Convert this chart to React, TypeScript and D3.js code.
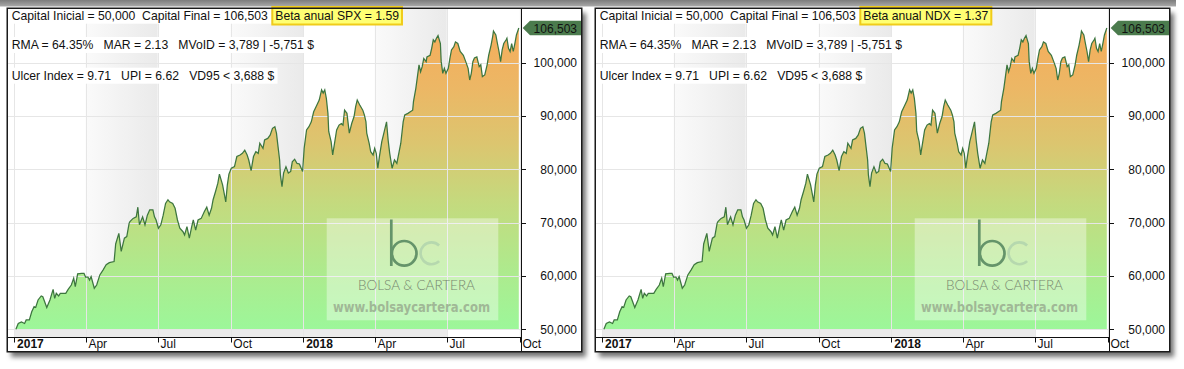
import React, { useEffect, useRef } from "react";
import * as d3 from "d3";

// equity curve (same curve in both panels)
const dates = [
  "2017-01-03","2017-01-06","2017-01-10","2017-01-14","2017-01-16","2017-01-20","2017-01-23","2017-01-26","2017-01-28","2017-01-31",
  "2017-02-04","2017-02-06","2017-02-11","2017-02-15","2017-02-19","2017-02-21","2017-02-23","2017-02-26","2017-02-28","2017-03-07",
  "2017-03-10","2017-03-14","2017-03-17","2017-03-19","2017-03-22","2017-03-27","2017-03-30","2017-04-01","2017-04-04","2017-04-06",
  "2017-04-08","2017-04-12","2017-04-15","2017-04-19","2017-04-23","2017-04-27","2017-05-01","2017-05-07","2017-05-09","2017-05-13",
  "2017-05-16","2017-05-20","2017-05-23","2017-05-26","2017-05-27","2017-05-31","2017-06-04","2017-06-06","2017-06-08","2017-06-12",
  "2017-06-15","2017-06-18","2017-06-21","2017-06-25","2017-06-27","2017-06-29","2017-07-02","2017-07-05","2017-07-08","2017-07-11",
  "2017-07-14","2017-07-16","2017-07-20","2017-07-23","2017-07-26","2017-07-29","2017-08-02","2017-08-04","2017-08-07","2017-08-10",
  "2017-08-13","2017-08-15","2017-08-18","2017-08-21","2017-08-25","2017-08-29","2017-09-01","2017-09-04","2017-09-07","2017-09-09",
  "2017-09-12","2017-09-15","2017-09-17","2017-09-21","2017-09-23","2017-09-25","2017-09-27","2017-09-29","2017-10-02","2017-10-06",
  "2017-10-09","2017-10-13","2017-10-16","2017-10-19","2017-10-22","2017-10-24","2017-10-27","2017-10-30","2017-11-02","2017-11-05",
  "2017-11-07","2017-11-11","2017-11-13","2017-11-17","2017-11-20","2017-11-23","2017-11-26","2017-11-28","2017-11-30","2017-12-02",
  "2017-12-03","2017-12-05","2017-12-07","2017-12-10","2017-12-13","2017-12-16","2017-12-18","2017-12-21","2017-12-24","2017-12-27",
  "2017-12-31","2018-01-02","2018-01-05","2018-01-08","2018-01-11","2018-01-14","2018-01-17","2018-01-21","2018-01-24","2018-01-26",
  "2018-01-28","2018-01-30","2018-02-01","2018-02-02","2018-02-05","2018-02-07","2018-02-09","2018-02-12","2018-02-15","2018-02-18",
  "2018-02-20","2018-02-22","2018-02-25","2018-02-28","2018-03-03","2018-03-06","2018-03-08","2018-03-10","2018-03-13","2018-03-17",
  "2018-03-19","2018-03-21","2018-03-22","2018-03-25","2018-03-27","2018-03-30","2018-04-01","2018-04-03","2018-04-05","2018-04-07",
  "2018-04-10","2018-04-12","2018-04-16","2018-04-18","2018-04-20","2018-04-23","2018-04-26","2018-04-29","2018-05-04","2018-05-07",
  "2018-05-09","2018-05-13","2018-05-16","2018-05-19","2018-05-20","2018-05-23","2018-05-25","2018-05-27","2018-05-29","2018-05-31",
  "2018-06-02","2018-06-05","2018-06-06","2018-06-10","2018-06-12","2018-06-14","2018-06-16","2018-06-18","2018-06-20","2018-06-23",
  "2018-06-24","2018-06-26","2018-06-28","2018-06-30","2018-07-03","2018-07-05","2018-07-07","2018-07-10","2018-07-12","2018-07-15",
  "2018-07-18","2018-07-22","2018-07-25","2018-07-28","2018-07-30","2018-08-01","2018-08-03","2018-08-05","2018-08-08","2018-08-11",
  "2018-08-13","2018-08-15","2018-08-18","2018-08-21","2018-08-23","2018-08-26","2018-08-28","2018-08-29","2018-09-01","2018-09-03",
  "2018-09-05","2018-09-07","2018-09-09","2018-09-11","2018-09-14","2018-09-15","2018-09-17","2018-09-19","2018-09-21","2018-09-23",
  "2018-09-25","2018-09-27","2018-09-30",
];
const equity = [
  50000,51100,51400,51100,51750,51750,53300,54250,54100,55500,
  56250,56100,54100,55500,57500,55800,56750,56250,56750,56750,
  57500,58300,59600,58000,60400,60500,60500,59800,59800,59250,
  59900,57700,58300,60200,61100,62100,62500,62700,66000,68000,
  64600,67100,67400,69900,70200,70800,71100,72900,69600,71100,
  69600,71400,72400,72400,71100,70500,68950,69600,71400,73600,
  74300,73900,73600,72700,70500,68950,68300,67700,69250,67100,
  69250,70500,68600,70500,70800,72100,72900,71400,72700,74300,
  75800,77400,79100,77100,75500,73900,77100,79100,80200,80500,
  82400,82700,83000,83600,82700,81750,79750,82400,83300,83000,
  84900,83950,85500,85800,86400,87700,88000,86800,84250,81750,
  78900,76750,79300,80500,79300,79600,81400,81900,81100,81000,
  79600,83950,87400,88000,88900,90800,91750,93000,94900,94300,
  94900,93300,90500,87100,85200,82700,84600,87400,88300,88600,
  88300,91100,90500,86800,88600,89900,91750,93000,92100,91100,
  90200,88900,86800,84900,83300,82700,83950,83000,80200,82400,
  85200,86400,88900,85500,83000,80200,81750,81100,84900,88900,
  90200,90500,90800,91100,92700,95200,97400,99600,98300,99250,
  100800,100200,101100,101400,102700,104300,103900,104600,105100,103600,
  100200,98000,98950,98000,98950,100800,102400,103000,103900,103600,
  102100,101400,100200,98950,96750,98000,100200,100900,101100,99250,
  99600,97400,97700,99600,101400,103300,104900,105950,105200,103600,
  102100,100200,102400,103600,104300,104600,102700,102100,103600,102100,
  103600,105200,106503,
];

const yTicks = [50000, 60000, 70000, 80000, 90000, 100000];
const statLines = [
  "Capital Inicial = 50,000  Capital Final = 106,503",
  "RMA = 64.35%   MAR = 2.13   MVoID = 3,789 | -5,751 $",
  "Ulcer Index = 9.71   UPI = 6.62   VD95 < 3,688 $",
];
const betaLabels = ["Beta anual SPX = 1.59", "Beta anual NDX = 1.37"];

const FONT = "'Liberation Sans', Arial, sans-serif";

const App = () => {
  const svgRef = useRef<SVGSVGElement>(null);

  useEffect(() => {
    document.body.style.margin = "0";
    const svg = d3.select(svgRef.current);
    svg.selectAll("*").remove();

    const parse = d3.utcParse("%Y-%m-%d");
    const data = dates.map((d, i) => ({ date: parse(d) as Date, value: equity[i] }));
    const last = data[data.length - 1];

    const x = d3
      .scaleUtc()
      .domain([parse("2017-01-01") as Date, parse("2018-10-01") as Date])
      .range([14.3, 519.6]);
    const y = d3.scaleLinear().domain([50000, 100000]).range([329.3, 62.7]);
    const xTicks = x.ticks(d3.utcMonth.every(3) as any);

    const plot = { left: 8, right: 521.7, top: 8, bottom: 337.3 };

    const defs = svg.append("defs");
    const fillGrad = defs
      .append("linearGradient")
      .attr("id", "eqFill")
      .attr("gradientUnits", "userSpaceOnUse")
      .attr("x1", 0).attr("x2", 0)
      .attr("y1", 28).attr("y2", 330);
    [
      [0, "#f5ad5b"],
      [0.2, "#ecb765"],
      [0.38, "#dcc56f"],
      [0.58, "#c4da7e"],
      [0.8, "#aeea8d"],
      [1, "#9cf79a"],
    ].forEach(([o, c]) => fillGrad.append("stop").attr("offset", o as number).attr("stop-color", c as string));

    const bandGrad = defs.append("linearGradient").attr("id", "band").attr("x1", 0).attr("x2", 1).attr("y1", 0).attr("y2", 0);
    bandGrad.append("stop").attr("offset", 0).attr("stop-color", "#fafafa");
    bandGrad.append("stop").attr("offset", 1).attr("stop-color", "#eaeaea");

    const topGrad = defs.append("linearGradient").attr("id", "topBand").attr("x1", 0).attr("x2", 0).attr("y1", 0).attr("y2", 1);
    topGrad.append("stop").attr("offset", 0).attr("stop-color", "#7c7c7c");
    topGrad.append("stop").attr("offset", 1).attr("stop-color", "#a9a9a9");

    const shadow = defs.append("filter").attr("id", "shadow")
      .attr("x", "-5%").attr("y", "-5%").attr("width", "115%").attr("height", "120%");
    shadow.append("feDropShadow")
      .attr("dx", 4).attr("dy", 5).attr("stdDeviation", 2.5)
      .attr("flood-color", "#000").attr("flood-opacity", 0.55);

    defs.append("clipPath").attr("id", "plotClip")
      .append("rect")
      .attr("x", plot.left).attr("y", plot.top)
      .attr("width", plot.right - plot.left).attr("height", plot.bottom - plot.top);

    svg.append("rect").attr("x", 0).attr("y", 0).attr("width", 1176).attr("height", 6.5).attr("fill", "url(#topBand)");

    const area = d3.area<{ date: Date; value: number }>()
      .x((d) => x(d.date))
      .y0(y(50000))
      .y1((d) => y(d.value));
    const line = d3.line<{ date: Date; value: number }>()
      .x((d) => x(d.date))
      .y((d) => y(d.value));

    betaLabels.forEach((beta, pi) => {
      const g = svg.append("g").attr("transform", `translate(${pi * 588},0)`);

      // frame
      g.append("rect")
        .attr("x", 7).attr("y", 8).attr("width", 575).attr("height", 344)
        .attr("fill", "#fff").attr("filter", "url(#shadow)");

      const inner = g.append("g").attr("clip-path", "url(#plotClip)");

      // alternate quarter shading
      xTicks.forEach((t) => {
        if (t.getUTCMonth() === 3 || t.getUTCMonth() === 9) {
          const t2 = d3.utcMonth.offset(t, 3);
          inner.append("rect")
            .attr("x", x(t)).attr("y", plot.top)
            .attr("width", x(t2) - x(t)).attr("height", plot.bottom - plot.top)
            .attr("fill", "url(#band)");
        }
      });

      inner.append("rect")
        .attr("x", x(xTicks[0])).attr("y", y(50000) + 0.5)
        .attr("width", x(parse("2018-07-01") as Date) - x(xTicks[0]))
        .attr("height", plot.bottom - y(50000) - 0.5)
        .attr("fill", "#ebebeb");

      inner.append("path").datum(data).attr("d", area).attr("fill", "url(#eqFill)");

      // grid
      inner.selectAll(".hg").data(yTicks).enter().append("line")
        .attr("x1", plot.left).attr("x2", plot.right)
        .attr("y1", (d) => Math.round(y(d)) + 0.5).attr("y2", (d) => Math.round(y(d)) + 0.5)
        .attr("stroke", "#e6e6e6").attr("stroke-width", 1);
      inner.selectAll(".vg").data(xTicks).enter().append("line")
        .attr("x1", (d) => Math.round(x(d)) + 0.5).attr("x2", (d) => Math.round(x(d)) + 0.5)
        .attr("y1", plot.top).attr("y2", plot.bottom)
        .attr("stroke", "#e6e6e6").attr("stroke-width", 1);

      // watermark
      const wm = inner.append("g");
      wm.append("rect").attr("x", 326.7).attr("y", 218.3).attr("width", 171.6).attr("height", 102)
        .attr("fill", "#fff").attr("fill-opacity", 0.38);
      wm.append("line").attr("x1", 391.3).attr("x2", 391.3).attr("y1", 219.5).attr("y2", 266)
        .attr("stroke", "#65946a").attr("stroke-width", 2.7);
      wm.append("circle").attr("cx", 404.2).attr("cy", 253.3).attr("r", 12.3)
        .attr("fill", "none").attr("stroke", "#65946a").attr("stroke-width", 2.7);
      wm.append("path")
        .attr("transform", "translate(431.5,253.3)")
        .attr("d", d3.arc()({ innerRadius: 9.6, outerRadius: 12.3, startAngle: Math.PI / 2 + 0.8, endAngle: Math.PI * 2.5 - 0.8 } as any) as string)
        .attr("fill", "#b6d8ae");
      wm.append("text").attr("x", 358).attr("y", 290)
        .attr("textLength", 117).attr("lengthAdjust", "spacingAndGlyphs")
        .style("font", `300 13.5px Lato, 'DejaVu Sans', sans-serif`)
        .attr("fill", "#76866e").text("BOLSA & CARTERA");
      wm.append("text").attr("x", 333).attr("y", 311.5)
        .attr("textLength", 157).attr("lengthAdjust", "spacingAndGlyphs")
        .style("font", `bold 13.5px Verdana, 'DejaVu Sans', sans-serif`)
        .attr("fill", "#a0b896").text("www.bolsaycartera.com");

      inner.append("path").datum(data).attr("d", line)
        .attr("fill", "none").attr("stroke", "#3d763f").attr("stroke-width", 1.25);

      // stats text with white backing
      const baselines = [20, 49.3, 80];
      let firstEnd = 0;
      statLines.forEach((s, i) => {
        const bg = g.append("rect").attr("fill", "#fff");
        const t = g.append("text")
          .attr("x", 11.7).attr("y", baselines[i])
          .style("font", `12.2px ${FONT}`).style("white-space", "pre")
          .attr("fill", "#111").text(s);
        const len = (t.node() as SVGTextElement).getComputedTextLength();
        if (i === 0) firstEnd = 11.7 + len;
        bg.attr("x", 8).attr("y", baselines[i] - 12.3).attr("width", len + 7).attr("height", 16);
      });

      // beta box
      const bx = firstEnd + 4.5;
      const bBox = g.append("rect").attr("x", bx).attr("y", 7).attr("height", 17.5)
        .attr("fill", "#ffff73").attr("stroke", "#f0cc1a").attr("stroke-width", 2);
      const bt = g.append("text").attr("x", bx + 3).attr("y", 20)
        .style("font", `12.2px ${FONT}`).attr("fill", "#111").text(beta);
      bBox.attr("width", (bt.node() as SVGTextElement).getComputedTextLength() + 6);

      // axes
      g.append("line").attr("x1", plot.left).attr("x2", plot.right)
        .attr("y1", 337.5).attr("y2", 337.5).attr("stroke", "#111").attr("stroke-width", 1);
      g.append("line").attr("x1", 521.5).attr("x2", 521.5)
        .attr("y1", 8).attr("y2", 352).attr("stroke", "#111").attr("stroke-width", 1);

      g.selectAll(".xt").data(xTicks).enter().append("line")
        .attr("x1", (d) => Math.round(x(d)) + 0.5).attr("x2", (d) => Math.round(x(d)) + 0.5)
        .attr("y1", 337.5).attr("y2", 342.5).attr("stroke", "#111");
      g.selectAll(".xl").data(xTicks).enter().append("text")
        .attr("x", (d) => x(d) + 2.8).attr("y", 348)
        .style("font", (d) => `${d.getUTCMonth() === 0 ? "bold " : ""}12px ${FONT}`)
        .attr("fill", "#111")
        .text((d) => (d.getUTCMonth() === 0 ? d3.utcFormat("%Y")(d) : d3.utcFormat("%b")(d)));

      g.selectAll(".yt").data(yTicks).enter().append("line")
        .attr("x1", 521.5).attr("x2", 526)
        .attr("y1", (d) => Math.round(y(d)) + 0.5).attr("y2", (d) => Math.round(y(d)) + 0.5)
        .attr("stroke", "#111");
      g.selectAll(".yl").data(yTicks).enter().append("text")
        .attr("x", 577).attr("y", (d) => y(d) + 4.3).attr("text-anchor", "end")
        .style("font", `12px ${FONT}`).attr("fill", "#111")
        .text((d) => d3.format(",")(d));

      // last value tag
      const ly = y(last.value);
      g.append("path")
        .attr("d", `M522.7,${ly} L530,${ly - 7.3} L581.7,${ly - 7.3} L581.7,${ly + 7.3} L530,${ly + 7.3} Z`)
        .attr("fill", "#4b7b4d");
      g.append("text").attr("x", 577).attr("y", ly + 4.5).attr("text-anchor", "end")
        .style("font", `12px ${FONT}`).attr("fill", "#111")
        .text(d3.format(",")(last.value));

      // frame border on top
      g.append("rect")
        .attr("x", 7.25).attr("y", 8.25).attr("width", 574.5).attr("height", 343.5)
        .attr("fill", "none").attr("stroke", "#1a1a1a").attr("stroke-width", 1.5);
    });
  }, []);

  return <svg ref={svgRef} width={1184} height={369} style={{ display: "block", background: "#fff" }} />;
};

export default App;
